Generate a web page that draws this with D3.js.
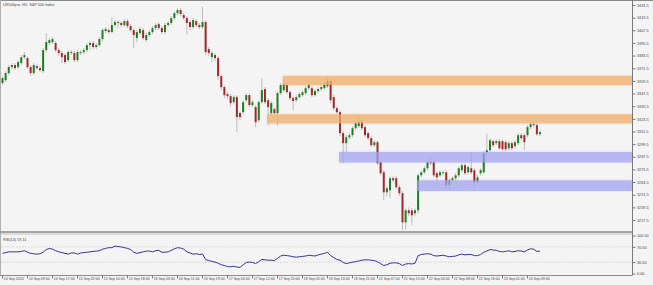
<!DOCTYPE html>
<html>
<head>
<meta charset="utf-8">
<script src="https://cdn.jsdelivr.net/npm/d3@7"></script>
<style>
	html, body { margin: 0; padding: 0; background: #f4f4f4; }
	svg { display: block; font-family: 'Liberation Sans', Arial, sans-serif; }
</style>
</head>
<body>
<svg id="chart" width="653" height="285"></svg>
<script>
// DATA
let title = 'US500pro, H1:  S&P 500 Index';
let rsiTitle = 'RSI(14) 59.11';

let timeLabels = [
	'14 Sep 2020', '14 Sep 09:00', '14 Sep 17:00', '15 Sep 02:00', '15 Sep 10:00', '15 Sep 18:00',
	'16 Sep 03:00', '16 Sep 11:00', '16 Sep 19:00', '17 Sep 04:00', '17 Sep 12:00', '17 Sep 20:00',
	'18 Sep 05:00', '18 Sep 13:00', '18 Sep 21:00', '21 Sep 07:00', '21 Sep 15:00', '22 Sep 00:00',
	'22 Sep 08:00', '22 Sep 16:00', '23 Sep 01:00', '23 Sep 09:00'
];
let barsPerLabel = 8;

let priceTicks = [3431.5, 3419.5, 3407.5, 3395.5, 3383.5, 3371.5, 3359.5, 3347.5, 3335.5,
	3323.5, 3311.5, 3299.5, 3287.5, 3275.5, 3263.5, 3251.5, 3239.5, 3227.5];
let rsiTicks = [100, 70, 30, 0];
let rsiLevels = [70, 30];

// [open, high, low, close], H1 bars
let candles = [
	[3357.4, 3364.0, 3355.5, 3362.1], [3360.2, 3368.8, 3358.3, 3366.9], [3366.9, 3374.5, 3364.9, 3372.6],
	[3372.6, 3376.4, 3370.7, 3374.5], [3374.5, 3376.4, 3369.7, 3371.6], [3372.6, 3379.2, 3370.7, 3377.3],
	[3376.4, 3384.0, 3374.5, 3382.0], [3382.0, 3386.8, 3380.2, 3384.0], [3381.1, 3383.0, 3370.7, 3372.6],
	[3372.6, 3374.5, 3364.0, 3366.9], [3366.9, 3376.4, 3364.9, 3374.5], [3373.5, 3375.4, 3369.7, 3371.6],
	[3371.6, 3373.5, 3367.8, 3369.7], [3368.8, 3390.6, 3366.9, 3388.7], [3388.7, 3404.9, 3386.8, 3396.3],
	[3395.4, 3400.1, 3393.5, 3398.2], [3396.3, 3401.1, 3394.4, 3399.2], [3395.4, 3397.3, 3386.8, 3388.7],
	[3388.7, 3390.6, 3383.0, 3385.9], [3385.9, 3387.8, 3376.4, 3382.0], [3384.0, 3385.9, 3375.4, 3377.3],
	[3379.2, 3388.7, 3377.3, 3386.8], [3386.8, 3388.7, 3384.0, 3385.9], [3385.9, 3387.8, 3377.3, 3379.2],
	[3379.2, 3388.7, 3377.3, 3386.8], [3385.9, 3388.7, 3384.0, 3386.8], [3386.8, 3390.6, 3384.9, 3388.7],
	[3388.7, 3395.4, 3386.8, 3393.5], [3393.5, 3397.3, 3388.7, 3395.4], [3395.4, 3397.3, 3389.7, 3391.6],
	[3391.6, 3395.4, 3389.7, 3393.5], [3393.5, 3401.1, 3391.6, 3399.2], [3399.2, 3409.6, 3397.3, 3407.7],
	[3406.8, 3410.6, 3404.9, 3408.7], [3407.7, 3409.6, 3403.9, 3405.8], [3405.8, 3420.0, 3404.9, 3412.5],
	[3412.5, 3417.2, 3410.6, 3415.3], [3415.3, 3417.2, 3409.6, 3414.4], [3414.4, 3416.2, 3410.6, 3412.5],
	[3412.5, 3418.2, 3410.6, 3416.2], [3416.2, 3418.2, 3409.6, 3411.5], [3411.5, 3413.4, 3405.8, 3407.7],
	[3407.7, 3409.6, 3390.6, 3403.0], [3400.1, 3407.7, 3396.3, 3405.8], [3404.9, 3410.6, 3403.0, 3408.7],
	[3407.7, 3409.6, 3398.2, 3400.1], [3398.2, 3404.9, 3396.3, 3403.0], [3403.0, 3407.7, 3401.1, 3405.8],
	[3405.8, 3411.5, 3403.9, 3409.6], [3409.6, 3414.4, 3407.7, 3412.5], [3413.4, 3415.3, 3407.7, 3409.6],
	[3409.6, 3411.5, 3403.9, 3405.8], [3405.8, 3414.4, 3403.9, 3412.5], [3412.5, 3416.2, 3410.6, 3414.4],
	[3414.4, 3421.0, 3412.5, 3419.1], [3419.1, 3425.8, 3417.2, 3423.8], [3423.8, 3428.6, 3421.9, 3426.7],
	[3426.7, 3428.6, 3421.0, 3422.9], [3421.9, 3423.8, 3417.2, 3419.1], [3419.1, 3421.0, 3403.0, 3414.4],
	[3415.3, 3417.2, 3407.7, 3410.6], [3410.6, 3419.1, 3408.7, 3417.2], [3416.2, 3418.2, 3410.6, 3412.5],
	[3412.5, 3414.4, 3408.7, 3410.6], [3410.6, 3429.6, 3408.7, 3415.3], [3415.3, 3417.2, 3384.0, 3386.8],
	[3389.7, 3391.6, 3383.0, 3385.9], [3382.0, 3387.8, 3377.3, 3385.9], [3384.0, 3385.9, 3378.3, 3381.1],
	[3381.1, 3383.0, 3360.2, 3364.0], [3364.0, 3365.9, 3350.7, 3353.6], [3353.6, 3355.5, 3343.1, 3346.0],
	[3346.9, 3348.8, 3342.2, 3345.0], [3345.0, 3346.9, 3335.5, 3338.4], [3339.3, 3346.0, 3337.4, 3344.1],
	[3344.1, 3346.0, 3310.8, 3325.1], [3328.9, 3330.8, 3322.2, 3325.1], [3329.8, 3341.2, 3327.9, 3339.3],
	[3341.2, 3347.9, 3339.3, 3346.0], [3346.0, 3347.9, 3334.6, 3336.5], [3336.5, 3341.2, 3334.6, 3339.3],
	[3334.6, 3336.5, 3315.6, 3320.3], [3322.2, 3341.2, 3320.3, 3339.3], [3339.3, 3362.1, 3337.4, 3350.7],
	[3351.7, 3353.6, 3337.4, 3339.3], [3341.2, 3343.1, 3317.5, 3334.6], [3328.9, 3340.3, 3327.0, 3338.4],
	[3332.7, 3334.6, 3327.0, 3328.9], [3328.9, 3349.8, 3317.5, 3347.9], [3347.9, 3357.4, 3346.0, 3355.5],
	[3350.7, 3360.2, 3348.8, 3356.4], [3355.5, 3357.4, 3346.9, 3348.8], [3348.8, 3350.7, 3341.2, 3343.1],
	[3343.1, 3345.0, 3331.7, 3340.3], [3341.2, 3346.0, 3339.3, 3344.1], [3344.1, 3348.8, 3342.2, 3346.9],
	[3346.0, 3350.7, 3344.1, 3348.8], [3347.9, 3354.5, 3346.0, 3352.6], [3352.6, 3357.4, 3350.7, 3355.5],
	[3352.6, 3354.5, 3344.1, 3346.0], [3346.0, 3351.7, 3344.1, 3349.8], [3349.8, 3353.6, 3347.9, 3351.7],
	[3351.7, 3355.5, 3349.8, 3353.6], [3352.6, 3358.3, 3350.7, 3356.4], [3354.5, 3363.0, 3352.6, 3359.3],
	[3359.3, 3361.2, 3338.4, 3341.2], [3344.1, 3346.0, 3331.7, 3333.6], [3333.6, 3335.5, 3327.9, 3329.8],
	[3329.8, 3331.7, 3307.0, 3309.9], [3309.9, 3311.8, 3281.4, 3300.4], [3300.4, 3308.0, 3291.8, 3306.0],
	[3306.0, 3309.9, 3304.1, 3308.0], [3308.0, 3316.5, 3306.0, 3314.6], [3314.6, 3321.3, 3312.7, 3319.4],
	[3316.5, 3326.0, 3314.6, 3320.3], [3320.3, 3322.2, 3312.7, 3314.6], [3315.6, 3317.5, 3306.0, 3308.0],
	[3309.9, 3311.8, 3303.2, 3305.1], [3305.1, 3307.0, 3296.6, 3298.5], [3298.5, 3303.2, 3296.6, 3301.3],
	[3301.3, 3303.2, 3279.5, 3281.4], [3282.3, 3284.2, 3269.9, 3271.9], [3272.8, 3274.7, 3246.2, 3253.8],
	[3253.8, 3259.5, 3250.0, 3257.6], [3255.7, 3269.0, 3248.1, 3267.1], [3267.1, 3269.0, 3263.3, 3265.2],
	[3267.1, 3269.0, 3256.7, 3258.6], [3258.6, 3260.5, 3250.0, 3252.9], [3252.9, 3254.8, 3217.7, 3225.3],
	[3225.3, 3238.6, 3218.6, 3236.7], [3236.7, 3239.6, 3231.0, 3233.9], [3236.7, 3238.6, 3222.5, 3232.0],
	[3233.9, 3238.6, 3231.0, 3236.7], [3236.7, 3271.9, 3233.9, 3269.9], [3269.9, 3274.7, 3268.0, 3272.8],
	[3272.8, 3278.5, 3270.9, 3276.6], [3276.6, 3284.2, 3274.7, 3282.3], [3282.3, 3289.0, 3279.5, 3281.4],
	[3282.3, 3284.2, 3268.0, 3269.9], [3271.9, 3273.8, 3263.3, 3268.0], [3269.9, 3274.7, 3268.0, 3272.8],
	[3271.9, 3274.7, 3269.9, 3272.8], [3272.8, 3274.7, 3257.6, 3260.5], [3260.5, 3267.1, 3255.7, 3265.2],
	[3265.2, 3269.0, 3263.3, 3267.1], [3267.1, 3271.9, 3265.2, 3269.9], [3269.9, 3278.5, 3268.0, 3276.6],
	[3274.7, 3281.4, 3272.8, 3279.5], [3279.5, 3281.4, 3269.9, 3271.9], [3272.8, 3279.5, 3270.9, 3277.6],
	[3276.6, 3291.8, 3270.9, 3272.8], [3274.7, 3276.6, 3257.6, 3263.3], [3263.3, 3269.9, 3261.4, 3268.0],
	[3271.9, 3276.6, 3269.9, 3274.7], [3272.8, 3292.8, 3270.9, 3290.9], [3291.8, 3309.9, 3289.9, 3293.7],
	[3293.7, 3305.1, 3291.8, 3303.2], [3302.3, 3304.1, 3296.6, 3298.5], [3300.4, 3304.1, 3298.5, 3302.3],
	[3302.3, 3304.1, 3293.7, 3295.6], [3302.3, 3304.1, 3292.8, 3294.7], [3301.3, 3303.2, 3292.8, 3294.7],
	[3295.6, 3302.3, 3293.7, 3300.4], [3300.4, 3302.3, 3293.7, 3295.6], [3297.5, 3303.2, 3295.6, 3301.3],
	[3300.4, 3309.9, 3298.5, 3308.0], [3308.0, 3309.9, 3303.2, 3305.1], [3308.0, 3309.9, 3293.7, 3301.3],
	[3308.0, 3317.5, 3306.0, 3315.6], [3315.6, 3320.3, 3313.7, 3318.4], [3318.4, 3320.3, 3315.6, 3317.5],
	[3317.5, 3319.4, 3307.0, 3308.9], [3308.9, 3312.7, 3307.0, 3310.8]
];

let rsi = [
	53, 55, 57, 57, 57, 57, 58, 60, 56, 53, 52, 51, 52, 56, 63, 66, 64, 60, 57, 55,
	53, 51, 54, 54, 51, 54, 55, 56, 57, 58, 59, 60, 64, 66, 68, 68, 72, 71, 70, 68,
	66, 63, 56, 53, 55, 57, 59, 59, 57, 60, 61, 56, 56, 57, 61, 65, 68, 67, 64, 57,
	54, 51, 52, 50, 51, 37, 34, 32, 30, 27, 23, 21, 18, 18, 19, 17, 16, 23, 29, 30,
	29, 26, 31, 37, 36, 35, 35, 34, 40, 46, 48, 47, 46, 44, 43, 44, 45, 46, 48, 47,
	46, 49, 51, 53, 56, 47, 42, 37, 35, 29, 26, 28, 30, 31, 33, 35, 36, 36, 35, 34,
	31, 26, 21, 23, 27, 28, 28, 26, 21, 25, 26, 25, 27, 47, 50, 51, 52, 51, 47, 46,
	47, 48, 46, 44, 45, 46, 49, 51, 49, 50, 50, 47, 47, 50, 56, 59, 63, 62, 61, 58,
	57, 58, 60, 57, 58, 60, 59, 57, 62, 65, 64, 58, 59.11
];

// supply / demand zones: first bar index, price top, price bottom
let zoneStart = [90, 85, 108, 133];
let zoneTop = [3364.3, 3327.9, 3292.1, 3265.2];
let zoneBottom = [3355.5, 3319.1, 3282.0, 3255.0];
let zoneKind = ['supply', 'supply', 'demand', 'demand'];

// PARAMETERS
let W = 653,
	H = 285,
	plotRight = 632,
	mainBottom = 232,
	rsiTop = 234,
	rsiBottom = 275.5;

let svg = d3.select('#chart');

// SCALES
let x = d3.scaleLinear().domain([0, candles.length - 1]).range([2.5, 540]);
let y = d3.scaleLinear().domain([3227.5, 3431.5]).range([220, 5]);
let yR = d3.scaleLinear().domain([0, 100]).range([273.5, 235.5]);

// FRAME
svg.append('rect').attr('width', W).attr('height', H).attr('fill', '#f4f4f4');

svg.append('line').attr('x1', 0).attr('x2', W).attr('y1', 0.5).attr('y2', 0.5)
	.attr('stroke', '#8a8a8a').attr('stroke-width', 1);
svg.append('line').attr('x1', 0.5).attr('x2', 0.5).attr('y1', 0).attr('y2', rsiBottom)
	.attr('stroke', '#b0b0b0');
svg.append('line').attr('x1', 0).attr('x2', plotRight).attr('y1', mainBottom).attr('y2', mainBottom)
	.attr('stroke', '#8a8a8a').attr('stroke-width', 1.5);
svg.append('line').attr('x1', 0).attr('x2', plotRight).attr('y1', rsiTop).attr('y2', rsiTop)
	.attr('stroke', '#b5b5b5').attr('stroke-width', 0.8);
svg.append('line').attr('x1', 0).attr('x2', plotRight).attr('y1', rsiBottom).attr('y2', rsiBottom)
	.attr('stroke', '#8a8a8a');
svg.append('line').attr('x1', plotRight + 0.5).attr('x2', plotRight + 0.5).attr('y1', 0).attr('y2', rsiBottom)
	.attr('stroke', '#7a7a7a');

// CANDLES
let candleG = svg.append('g');

candleG.selectAll('line.wick')
	.data(candles)
	.enter()
	.append('line')
	.attr('class', 'wick')
	.attr('x1', (d, i) => x(i))
	.attr('x2', (d, i) => x(i))
	.attr('y1', d => y(d[1]))
	.attr('y2', d => y(d[2]))
	.attr('stroke', '#bcbcbc')
	.attr('stroke-width', 1);

candleG.selectAll('rect.body')
	.data(candles)
	.enter()
	.append('rect')
	.attr('class', 'body')
	.attr('x', (d, i) => x(i) - 1)
	.attr('width', 2)
	.attr('y', d => y(Math.max(d[0], d[3])))
	.attr('height', d => Math.max(0.8, Math.abs(y(d[0]) - y(d[3]))))
	.attr('fill', d => d[3] >= d[0] ? '#1f7d22' : '#9e2a2b');

// ZONES
let zoneFill = { supply: 'rgb(250,178,108)', demand: 'rgb(168,168,248)' };

svg.append('g')
	.selectAll('rect')
	.data(zoneStart)
	.enter()
	.append('rect')
	.attr('x', (d, i) => x(d) - 1)
	.attr('width', (d, i) => plotRight - (x(d) - 1))
	.attr('y', (d, i) => y(zoneTop[i]))
	.attr('height', (d, i) => y(zoneBottom[i]) - y(zoneTop[i]))
	.attr('fill', (d, i) => zoneFill[zoneKind[i]])
	.attr('fill-opacity', 0.72)
	.style('filter', 'drop-shadow(0px 0px 0.8px rgba(0,0,0,0.15))');

// PRICE AXIS
let priceAxis = d3.axisRight(y)
	.tickValues(priceTicks)
	.tickFormat(d3.format('.1f'))
	.tickSize(3)
	.tickPadding(1.5);

let pa = svg.append('g')
	.attr('transform', `translate(${plotRight + 0.5},0)`)
	.call(priceAxis);
pa.select('.domain').remove();
pa.selectAll('line').attr('stroke', '#7a7a7a');
pa.selectAll('text').attr('font-size', 3.8).attr('fill', '#444').attr('font-family', null);

// RSI
svg.append('g')
	.selectAll('line')
	.data(rsiLevels)
	.enter()
	.append('line')
	.attr('x1', 1)
	.attr('x2', plotRight)
	.attr('y1', d => yR(d))
	.attr('y2', d => yR(d))
	.attr('stroke', '#c4c4c4')
	.attr('stroke-width', 0.7)
	.attr('stroke-dasharray', '1.5,1.5');

svg.append('path')
	.datum(rsi)
	.attr('fill', 'none')
	.attr('stroke', '#34349a')
	.attr('stroke-width', 1)
	.attr('stroke-linejoin', 'round')
	.attr('d', d3.line().x((d, i) => x(i)).y(d => yR(d)));

let rsiAxis = d3.axisRight(yR)
	.tickValues(rsiTicks)
	.tickFormat(d3.format('.2f'))
	.tickSize(3)
	.tickPadding(1.5);

let ra = svg.append('g')
	.attr('transform', `translate(${plotRight + 0.5},0)`)
	.call(rsiAxis);
ra.select('.domain').remove();
ra.selectAll('line').attr('stroke', '#7a7a7a');
ra.selectAll('text').attr('font-size', 3.8).attr('fill', '#444').attr('font-family', null);

// TIME AXIS
let labelBars = timeLabels.map((t, i) => i * barsPerLabel);

let timeAxis = d3.axisBottom(x)
	.tickValues(labelBars)
	.tickFormat((d, i) => timeLabels[i])
	.tickSize(3)
	.tickPadding(1);

let ta = svg.append('g')
	.attr('transform', `translate(0,${rsiBottom})`)
	.call(timeAxis);
ta.select('.domain').remove();
ta.selectAll('line').attr('stroke', '#7a7a7a').attr('transform', 'translate(-0.5,0)');
ta.selectAll('text')
	.attr('font-size', 3.5)
	.attr('fill', '#444')
	.attr('font-family', null)
	.attr('text-anchor', 'start')
	.attr('x', 0.8)
	.attr('y', 2.5)
	.attr('dy', '0.71em');

// TITLES
svg.append('text')
	.attr('x', 3)
	.attr('y', 6)
	.attr('font-size', 3.8)
	.attr('fill', '#444')
	.text(title);

svg.append('text')
	.attr('x', 3)
	.attr('y', 240.5)
	.attr('font-size', 3.8)
	.attr('fill', '#444')
	.text(rsiTitle);
</script>
</body>
</html>
